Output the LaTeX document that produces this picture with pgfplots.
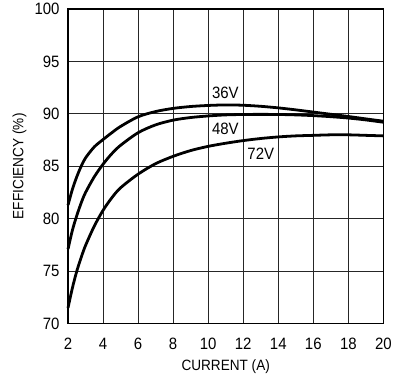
\documentclass[border=0pt]{standalone}
\usepackage{fontspec}
\setmainfont{Liberation Sans}[FakeStretch=0.91]
\usepackage{pgfplots}
\pgfplotsset{compat=1.18}
\newcommand{\tickfont}{\fontsize{16.5bp}{18bp}\selectfont}
\newcommand{\labfont}{\fontsize{15bp}{17bp}\selectfont}
\begin{document}
\begin{tikzpicture}
\begin{axis}[
  scale only axis,
  width=316.7bp, height=316bp,
  xmin=2, xmax=20, ymin=70, ymax=100,
  xtick={2,4,...,20}, ytick={70,75,...,100},
  major tick length=0pt,
  grid=major,
  major grid style={black!85, line width=0.9bp},
  axis line style={black, line width=1.1bp},
  /pgf/number format/assume math mode=true,
  tick label style={font=\tickfont},
  xticklabel style={anchor=base, yshift=-25.7bp},
  yticklabel style={anchor=east, inner sep=0pt, xshift=-8.3bp},
  xlabel={CURRENT (A)},
  ylabel={EFFICIENCY (\%)},
  every axis x label/.style={at={(axis description cs:0.5,-0.148)}, anchor=base, font=\labfont},
  every axis y label/.style={at={(axis description cs:-0.154,0.5)}, rotate=90, anchor=center, font=\labfont},
  clip=false,
]
\addplot[black, line width=2.8bp, smooth] coordinates {
(2,81.3) (2.25,82.8) (2.5,84.0) (2.75,85.0) (3,85.8) (3.5,86.85) (4,87.55) (4.5,88.2) (5,88.8) (6,89.72) (7,90.22) (8,90.52) (9,90.7) (10,90.8) (11,90.85) (12,90.82) (13,90.72) (14,90.57) (15,90.38) (16,90.17) (17,89.96) (18,89.75) (19,89.52) (20,89.3)
};
\addplot[black, line width=2.8bp, smooth] coordinates {
(2,77.1) (2.25,78.9) (2.5,80.3) (2.75,81.5) (3,82.5) (3.5,84.0) (4,85.2) (4.5,86.2) (5,87.0) (6,88.2) (7,88.95) (8,89.4) (9,89.65) (10,89.8) (11,89.9) (12,89.94) (13,89.95) (14,89.94) (15,89.9) (16,89.83) (17,89.73) (18,89.6) (19,89.42) (20,89.2)
};
\addplot[black, line width=2.8bp, smooth] coordinates {
(2,71.5) (2.25,73.4) (2.5,75.0) (2.75,76.3) (3,77.45) (3.5,79.3) (4,80.8) (4.5,82.0) (5,82.95) (6,84.25) (7,85.25) (8,85.95) (9,86.5) (10,86.9) (11,87.2) (12,87.45) (13,87.65) (14,87.8) (15,87.9) (16,87.95) (17,88.0) (18,88.0) (19,87.95) (20,87.9)
};
\node[anchor=base west, inner sep=0pt, font=\tickfont] at (axis cs:10.21,91.43) {36V};
\node[anchor=base west, inner sep=0pt, font=\tickfont] at (axis cs:10.21,88.04) {48V};
\node[anchor=base west, inner sep=0pt, font=\tickfont] at (axis cs:12.23,85.66) {72V};
\end{axis}
\path (-68.3bp,-53bp) rectangle (326.7bp,325bp);
\end{tikzpicture}
\end{document}
